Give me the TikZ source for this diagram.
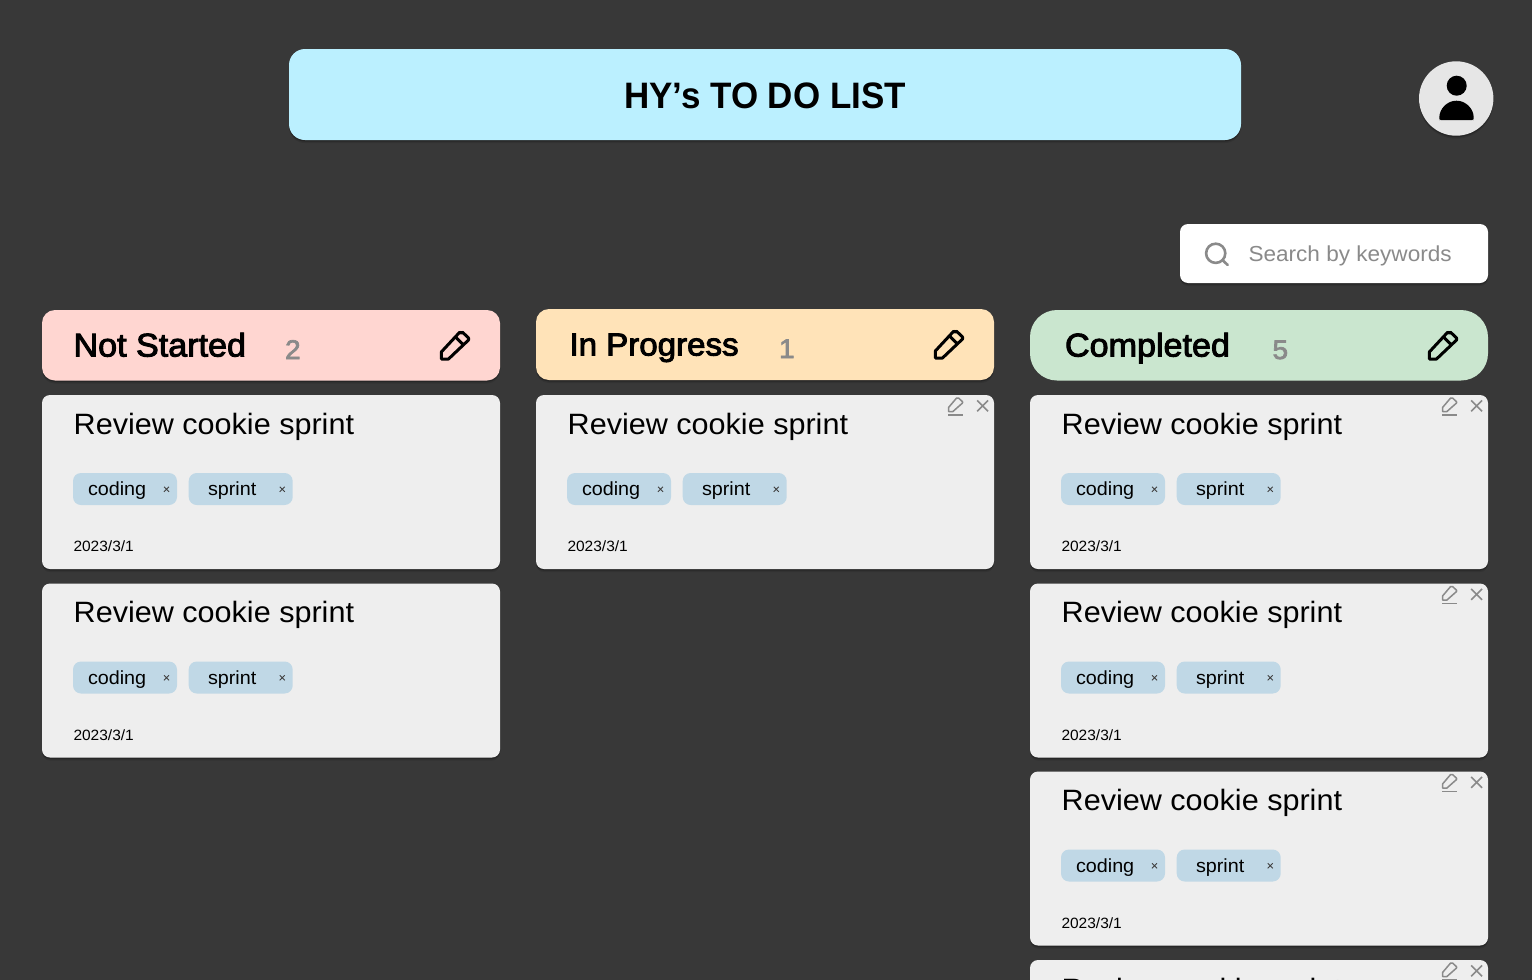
\documentclass[tikz,border=0pt]{standalone}
\usepackage{fontspec}
\setmainfont{Liberation Sans}
\newfontfamily\inter[FakeStretch=1.04]{Liberation Sans}
\newfontfamily\intertitle[FakeStretch=0.95]{Liberation Sans}
\newcommand{\strokedtext}[2]{\special{pdf:literal direct 2 Tr #1 w}#2\special{pdf:literal direct 0 Tr 1 w}}
\usetikzlibrary{shadows}
\definecolor{bgc}{HTML}{383838}
\definecolor{titlec}{HTML}{BBF0FF}
\definecolor{redc}{HTML}{FFD6D1}
\definecolor{yellowc}{HTML}{FFE3B8}
\definecolor{greenc}{HTML}{CAE6CF}
\definecolor{cardc}{HTML}{EEEEEE}
\definecolor{tagc}{HTML}{C0D8E6}
\definecolor{grayc}{HTML}{8A8A8A}
\definecolor{avac}{HTML}{E6E6E6}
\tikzset{
  x=1pt,y=-1pt,
  softshadow/.style={general shadow={fill=black,opacity=.22,shadow xshift=0pt,shadow yshift=-1.5pt},
                     general shadow={fill=black,opacity=.10,shadow xshift=0pt,shadow yshift=-3pt}},
  txt/.style={anchor=base west,inner sep=0pt,outer sep=0pt,text=black},
  cardtitle/.style={txt,font=\inter\fontsize{29.4}{32}\selectfont},
  tagtext/.style={txt,font=\inter\fontsize{19}{22}\selectfont},
  datetext/.style={txt,font=\inter\fontsize{14.9}{16}\selectfont},
  counttext/.style={txt,text=grayc,font=\inter\fontsize{27}{30}\selectfont},
  tagbox/.style={fill=tagc,rounded corners=8pt},
  xmark/.style={draw=black!75,line width=.9pt},
  iconline/.style={draw=grayc,line width=1.5pt},
  bigpencil/.style={draw=black,line width=3pt,line join=round}
}
\newcommand{\headpencil}[2]{%
  \begin{scope}[shift={(#1+1,#2-0.5)}]
    \draw[bigpencil] (398.3,49.5) -- (398.3,42.5) -- (416.6,22.8) to[out=-45,in=-135] (419.6,22.8) -- (425,28) to[out=45,in=-45] (425,31) -- (405.5,49.5) -- cycle;
    \draw[bigpencil] (412,27) -- (420.5,35.5);
  \end{scope}}
\newcommand{\tagpill}[4]{% x, id, text, text x offset
  \fill[tagbox] (#1,78) rectangle ++(104,32);
  \node[tagtext] (#2) at (#1+#4,100.5) {#3};
  \draw[xmark] (#1+91,91.8) -- (#1+96,96.8) (#1+96,91.8) -- (#1+91,96.8);
}
\newcommand{\card}[4]{%
  \begin{scope}[shift={(#2,#3)}]
    \fill[cardc,rounded corners=8pt,softshadow] (0,0) rectangle (458,174);
    \node[cardtitle] (#1title) at (31.7,39) {Review cookie sprint};
    \tagpill{31}{#1tagA}{coding}{15}
    \tagpill{146.7}{#1tagB}{sprint}{19.3}
    \node[datetext] (#1date) at (31.5,156.5) {2023/3/1};
    \ifnum#4=1
      \draw[iconline,line join=round] (412.7,16.7) -- (412.7,12.3) -- (420.6,3) to[out=-45,in=-135] (422.5,3) -- (426.3,6.5) to[out=45,in=-45] (426.3,8.2) -- (416.7,16.7) -- cycle;
      \draw[iconline] (412,20) -- (426.7,20);
      \draw[iconline] (441.2,5.5) -- (452,16.3) (452,5.5) -- (441.2,16.3);
    \fi
  \end{scope}}
\begin{document}
\begin{tikzpicture}
\useasboundingbox (0,0) rectangle (1532,980);
\clip (0,0) rectangle (1532,980);
\fill[bgc] (0,0) rectangle (1532,980);

% title
\fill[titlec,rounded corners=16pt,softshadow] (289,49) rectangle (1241,140);
\node[anchor=base,inner sep=0pt,text=black,font=\intertitle\bfseries\fontsize{36.8}{42}\selectfont] (title) at (765,108) {HY’s TO DO LIST};

% avatar
\fill[avac,softshadow] (1456.2,98.5) circle[radius=37.2];
\fill[black] (1456.7,85.7) circle[radius=10];
\fill[black,rounded corners=1.5pt] (1439.3,120.2) -- (1439.3,119) arc[start angle=180,end angle=360,x radius=17.2,y radius=18.3] -- (1473.7,120.2) -- cycle;

% search
\fill[white,rounded corners=8pt,softshadow] (1180,224) rectangle (1488,283);
\draw[draw=grayc,line width=2.6pt] (1215.7,253.3) circle[radius=9.6];
\draw[draw=grayc,line width=2.6pt,line cap=round] (1222.6,260.2) -- (1227.7,265);
\node[txt,text=grayc,font=\inter\fontsize{21.7}{26}\selectfont] (search) at (1248.5,261.5) {Search by keywords};

% headers
\fill[redc,rounded corners=13pt,softshadow] (42,310) rectangle (500,380.5);
\node[txt,font=\inter\fontsize{32.8}{36}\selectfont] (hdA) at (73.5,356.5) {\strokedtext{0.95}{Not Started}};
\node[counttext] (cntA) at (285,359) {\strokedtext{0.7}{2}};
\headpencil{42}{310}

\fill[yellowc,rounded corners=13pt,softshadow] (536,309) rectangle (994,380);
\node[txt,font=\inter\fontsize{31.8}{36}\selectfont] (hdB) at (569.5,355.5) {\strokedtext{0.95}{In Progress}};
\node[counttext] (cntB) at (779,358) {\strokedtext{0.7}{1}};
\headpencil{536}{309}

\fill[greenc,rounded corners=27pt] (1030,310) rectangle (1488,380.5);
\node[txt,font=\inter\fontsize{32.8}{36}\selectfont] (hdC) at (1065,356.5) {\strokedtext{0.95}{Completed}};
\node[counttext] (cntC) at (1272.5,359) {\strokedtext{0.7}{5}};
\headpencil{1030}{310}

% cards
\card{a1}{42}{395}{0}
\card{a2}{42}{583.5}{0}
\card{b1}{536}{395}{1}
\card{c1}{1030}{395}{1}
\card{c2}{1030}{583.5}{1}
\card{c3}{1030}{771.5}{1}
\card{c4}{1030}{960}{1}
\end{tikzpicture}
\end{document}
